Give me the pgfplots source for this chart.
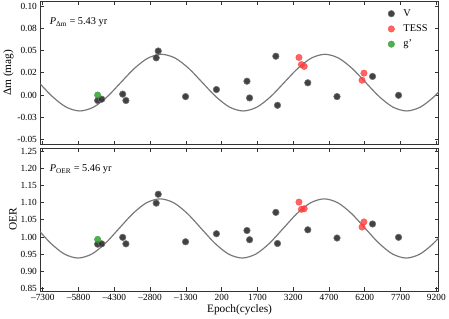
\documentclass[border=0pt]{standalone}
\usepackage{pgfplots}
\pgfplotsset{compat=1.18}
\usepackage{fontspec}
\setmainfont{Liberation Serif}

\definecolor{vcol}{RGB}{45,45,45}
\definecolor{tesscol}{RGB}{255,60,60}
\definecolor{gcol}{RGB}{50,160,50}
\definecolor{fitcol}{RGB}{120,120,120}

\pgfplotsset{
  panel/.style={
    width=404pt, scale only axis,
    xmin=-7400, xmax=9300,
    xtick={-7300,-5800,-4300,-2800,-1300,200,1700,3200,4700,6200,7700,9200},
    tick align=inside, tick pos=both,
    major tick length=4pt,
    axis line style={black!80, line width=1pt},
    every tick/.style={black!80, line width=0.8pt},
    tick label style={font=\fontsize{9.5}{11}\selectfont},
    label style={font=\fontsize{11.5}{13}\selectfont},
    ylabel shift=-3pt,
  },
  vmark/.style={only marks, mark=*, mark size=3.3pt,
    mark options={fill=vcol, draw=black!55, line width=0.6pt, fill opacity=0.9}},
  tmark/.style={only marks, mark=*, mark size=3.3pt,
    mark options={fill=tesscol, draw=tesscol, fill opacity=0.8, draw opacity=0.8}},
  gmark/.style={only marks, mark=*, mark size=3.3pt,
    mark options={fill=gcol, draw=gcol, fill opacity=0.85, draw opacity=0.85}},
  fit/.style={fitcol, line width=1.2pt, smooth, no marks, forget plot},
}

\begin{document}
\begin{tikzpicture}
% top panel: Delta m
\begin{axis}[panel, at={(0,148.5pt)}, height=145.5pt,
  ymin=-0.056, ymax=0.106,
  ytick={-0.05,-0.025,0,0.025,0.05,0.075,0.1},
  yticklabels={{-0.05},{-0.03},{0.00},{0.02},{0.05},{0.08},{0.10}},
  xticklabels={},
  ylabel={Δm (mag)},
  legend style={draw=none, fill=none, at={(0.985,0.97)}, anchor=north east,
    font=\fontsize{10.5}{12}\selectfont, row sep=3pt,
    legend cell align=left},
]
\addplot[fit] coordinates {
(-7457.5,0.014) (-6886.7,-0.002) (-6315.8,-0.0137) (-5745.0,-0.018)
(-5174.2,-0.0137) (-4603.3,-0.002) (-4032.5,0.014) (-3461.7,0.030)
(-2890.8,0.0417) (-2320.0,0.046) (-1749.2,0.0417) (-1178.3,0.030)
(-607.5,0.014) (-36.7,-0.002) (534.2,-0.0137) (1105.0,-0.018)
(1675.8,-0.0137) (2246.7,-0.002) (2817.5,0.014) (3388.3,0.030)
(3959.2,0.0417) (4530.0,0.046) (5100.8,0.0417) (5671.7,0.030)
(6242.5,0.014) (6813.3,-0.002) (7384.2,-0.0137) (7955.0,-0.018)
(8525.8,-0.0137) (9096.7,-0.002) (9667.5,0.014)
};
\addplot[vmark] coordinates {
(-5000,-0.0062) (-4830,-0.0047) (-3950,0.001) (-3815,-0.0062)
(-2545,0.042) (-2460,0.0497) (-1315,-0.0018) (-20,0.0062)
(1260,0.0156) (1370,-0.0033) (2470,0.0438) (2540,-0.0116)
(3810,0.0138) (5035,-0.0018) (6525,0.021) (7615,-0.0003)
};
\addlegendentry{\hspace{7pt}V}
\addplot[tmark] coordinates {
(3440,0.0424) (3545,0.0344) (3660,0.0323) (6085,0.0167) (6165,0.0247)
};
\addlegendentry{\hspace{7pt}TESS}
\addplot[gmark] coordinates {
(-5000,0.0000)
};
\addlegendentry{\hspace{7pt}g'}
\node[anchor=west, font=\fontsize{10.5}{12}\selectfont] at (rel axis cs:0.015,0.85)
  {\textit{P}\textsubscript{Δm} = 5.43 yr};
\end{axis}

% bottom panel: OER
\begin{axis}[panel, at={(0,0)}, height=145pt,
  ymin=0.842, ymax=1.26,
  ytick={0.85,0.90,0.95,1.00,1.05,1.10,1.15,1.20,1.25},
  yticklabels={0.85,0.90,0.95,1.00,1.05,1.10,1.15,1.20,1.25},
  xticklabels={--7300,--5800,--4300,--2800,--1300,200,1700,3200,4700,6200,7700,9200},
  xlabel={Epoch(cycles)},
  ylabel={OER},
  xlabel shift=-3pt,
]
\addplot[fit] coordinates {
(-7540,1.025) (-6966.7,0.9818) (-6393.3,0.9501) (-5820,0.9385)
(-5246.7,0.9501) (-4673.3,0.9818) (-4100,1.025) (-3526.7,1.0683)
(-2953.3,1.0999) (-2380,1.1115) (-1806.7,1.0999) (-1233.3,1.0683)
(-660,1.025) (-86.7,0.9818) (486.7,0.9501) (1060,0.9385)
(1633.3,0.9501) (2206.7,0.9818) (2780,1.025) (3353.3,1.0683)
(3926.7,1.0999) (4500,1.1115) (5073.3,1.0999) (5646.7,1.0683)
(6220,1.025) (6793.3,0.9818) (7366.7,0.9501) (7940,0.9385)
(8513.3,0.9501) (9086.7,0.9818) (9660,1.025)
};
\addplot[vmark] coordinates {
(-5000,0.979) (-4830,0.980) (-3950,0.999) (-3815,0.980)
(-2545,1.099) (-2460,1.125) (-1315,0.986) (-20,1.0095)
(1260,1.019) (1370,0.992) (2470,1.072) (2540,0.981)
(3810,1.021) (5035,0.997) (6525,1.038) (7615,0.999)
};
\addplot[tmark] coordinates {
(3440,1.102) (3545,1.081) (3660,1.0825) (6085,1.029) (6165,1.044)
};
\addplot[gmark] coordinates {
(-5000,0.993)
};
\node[anchor=west, font=\fontsize{10.5}{12}\selectfont] at (rel axis cs:0.015,0.85)
  {\textit{P}\textsubscript{OER} = 5.46 yr};
\end{axis}
\end{tikzpicture}
\end{document}
